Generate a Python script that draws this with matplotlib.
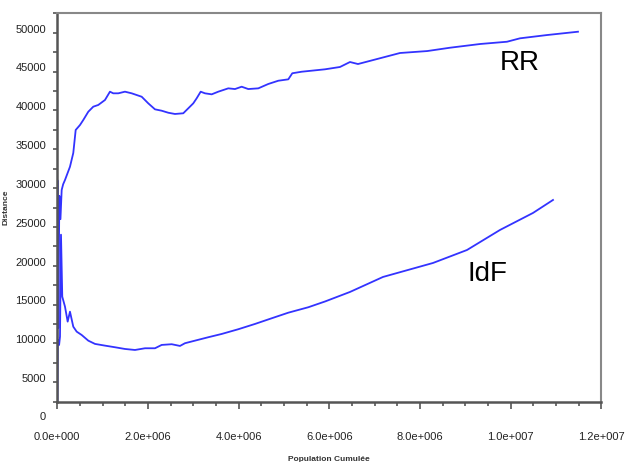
import numpy as np
import matplotlib
matplotlib.use("Agg")
import matplotlib.pyplot as plt
from matplotlib.ticker import MultipleLocator, FuncFormatter
from matplotlib.transforms import ScaledTranslation

plt.rcParams["font.family"] = ["Liberation Sans", "DejaVu Sans"]

# cumulative population (x) and distance (y)
rr_pop = [0, 5e3, 25e3, 45e3, 70e3, 97e3, 130e3, 170e3, 280e3, 353e3, 406e3,
          501e3, 574e3, 684e3, 794e3, 904e3, 1.052e6, 1.162e6, 1.235e6,
          1.346e6, 1.493e6, 1.641e6, 1.862e6, 2.007e6, 2.155e6, 2.303e6,
          2.449e6, 2.596e6, 2.779e6, 2.890e6, 3.000e6, 3.075e6, 3.163e6,
          3.258e6, 3.406e6, 3.551e6, 3.772e6, 3.920e6, 4.068e6, 4.213e6,
          4.434e6, 4.654e6, 4.875e6, 5.096e6, 5.184e6, 5.391e6, 5.905e6,
          6.236e6, 6.457e6, 6.633e6, 7.560e6, 8.160e6, 8.663e6, 9.330e6,
          9.920e6, 10.207e6, 10.800e6, 11.486e6]
rr_dist = [1500, 31000, 12000, 29000, 26000, 29760, 30500, 31040, 32750, 34520,
           37480, 38120, 38770, 39830, 40480, 40700, 41340, 42410, 42200,
           42200, 42410, 42200, 41760, 40910, 40140, 39960, 39700, 39540,
           39630, 40270, 40910, 41560, 42410, 42200, 42070, 42410, 42840,
           42750, 43050, 42750, 42840, 43400, 43820, 44000, 44780, 44980,
           45290, 45590, 46230, 45970, 47390, 47640, 48070, 48550, 48840,
           49280, 49700, 50130]

idf_pop = [0, 10e3, 22e3, 40e3, 60e3, 82e3, 110e3, 170e3, 229e3, 280e3, 353e3,
           428e3, 538e3, 684e3, 832e3, 1.052e6, 1.273e6, 1.493e6, 1.714e6,
           1.935e6, 2.155e6, 2.303e6, 2.524e6, 2.707e6, 2.817e6, 3.037e6,
           3.331e6, 3.626e6, 3.993e6, 4.361e6, 4.729e6, 5.096e6, 5.537e6,
           5.905e6, 6.457e6, 7.185e6, 8.288e6, 9.038e6, 9.766e6, 10.494e6,
           10.935e6]
idf_dist = [1500, 10000, 10450, 9800, 10880, 24000, 16020, 14740, 12810, 14090,
            12160, 11520, 11090, 10360, 9940, 9720, 9510, 9290, 9160, 9380,
            9380, 9810, 9900, 9680, 10030, 10360, 10800, 11220, 11830, 12510,
            13240, 13960, 14660, 15400, 16630, 18560, 20360, 22030, 24610,
            26800, 28470]

labels = ["RR", "IdF"]
label_pos = [(10.2e6, 46100), (9.48e6, 18950)]

fig = plt.figure(figsize=(6.26, 4.62), dpi=100)
ax = fig.add_axes([0.0915, 0.1305, 0.869, 0.8407])

ax.plot(rr_pop, rr_dist, color="#3333ff", lw=1.3)
ax.plot(idf_pop, idf_dist, color="#3333ff", lw=1.3)

for name, (x, y) in zip(labels, label_pos):
    ax.text(x, y, name, fontsize=20, ha="center", va="center", color="black")

ax.set_xlim(0, 1.2e7)
ax.set_ylim(2500, 52500)

ax.xaxis.set_major_locator(MultipleLocator(2e6))
ax.xaxis.set_minor_locator(MultipleLocator(5e5))
ax.yaxis.set_major_locator(MultipleLocator(5000))
ax.yaxis.set_minor_locator(MultipleLocator(2500))


def sci_fmt(v, pos):
    if v == 0:
        return "0.0e+000"
    e = int(np.floor(np.log10(abs(v))))
    return f"{v / 10**e:.1f}e+{e:03d}"


ax.xaxis.set_major_formatter(FuncFormatter(sci_fmt))
ax.yaxis.set_major_formatter(FuncFormatter(lambda v, p: f"{int(v)}"))

ax.tick_params(axis="x", which="major", direction="out", length=5, width=1.2,
               color="#555555", pad=17, labelsize=8, labelcolor="#222222")
ax.tick_params(axis="x", which="minor", direction="out", length=3, width=1.2,
               color="#555555")
ax.tick_params(axis="y", which="both", direction="out", length=3, width=1.2,
               color="#555555", pad=5, labelsize=8, labelcolor="#222222")

offset = ScaledTranslation(0, 3 / 72, fig.dpi_scale_trans)
for lab in ax.get_yticklabels():
    lab.set_transform(lab.get_transform() + offset)

# the zero label sits below the frame
ax.annotate("0", xy=(0, 0), xycoords=("axes fraction", "data"),
            xytext=(-8.5, 3), textcoords="offset points", ha="right",
            va="center", fontsize=8, color="#222222", annotation_clip=False)

for side in ["top", "right"]:
    ax.spines[side].set_color("#888888")
    ax.spines[side].set_linewidth(1.5)
for side in ["left", "bottom"]:
    ax.spines[side].set_color("#555555")
    ax.spines[side].set_linewidth(1.8)

ax.set_xlabel("Population Cumulée", fontsize=6, fontweight="bold",
              color="#333333", labelpad=10)
ax.set_ylabel("Distance", fontsize=6, fontweight="bold", color="#333333")
ax.yaxis.set_label_coords(-0.088, 0.5)

fig.savefig("out.png", dpi=100)
